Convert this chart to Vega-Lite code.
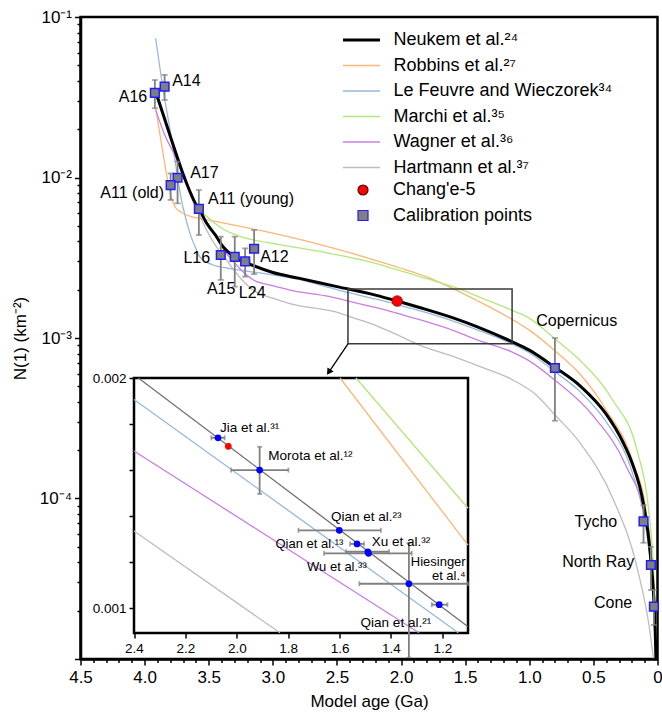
{
  "$schema": "https://vega.github.io/schema/vega-lite/v6.json",
  "width": 577,
  "height": 642,
  "autosize": "none",
  "padding": {"left": 80.5, "top": 17, "right": 4.5, "bottom": 57},
  "config": {
    "font": "Liberation Sans",
    "view": {"stroke": "#000000", "strokeWidth": 2.5},
    "axis": {"grid": false}
  },
  "datasets": {
    "curves": [
      {"series": "Robbins et al.²⁷", "t": 3.914, "n": 0.027},
      {"series": "Robbins et al.²⁷", "t": 3.87, "n": 0.0165},
      {"series": "Robbins et al.²⁷", "t": 3.84, "n": 0.0118},
      {"series": "Robbins et al.²⁷", "t": 3.8, "n": 0.0079},
      {"series": "Robbins et al.²⁷", "t": 3.764, "n": 0.0066},
      {"series": "Robbins et al.²⁷", "t": 3.72, "n": 0.0061},
      {"series": "Robbins et al.²⁷", "t": 3.673, "n": 0.00584},
      {"series": "Robbins et al.²⁷", "t": 3.55, "n": 0.00552},
      {"series": "Robbins et al.²⁷", "t": 3.44, "n": 0.00531},
      {"series": "Robbins et al.²⁷", "t": 3.2, "n": 0.00487},
      {"series": "Robbins et al.²⁷", "t": 3.0, "n": 0.0045},
      {"series": "Robbins et al.²⁷", "t": 2.8, "n": 0.00413},
      {"series": "Robbins et al.²⁷", "t": 2.557, "n": 0.00368},
      {"series": "Robbins et al.²⁷", "t": 2.2, "n": 0.00305},
      {"series": "Robbins et al.²⁷", "t": 2.0, "n": 0.00272},
      {"series": "Robbins et al.²⁷", "t": 1.8, "n": 0.0024},
      {"series": "Robbins et al.²⁷", "t": 1.6, "n": 0.00204},
      {"series": "Robbins et al.²⁷", "t": 1.4, "n": 0.0017},
      {"series": "Robbins et al.²⁷", "t": 1.137, "n": 0.00131},
      {"series": "Robbins et al.²⁷", "t": 1.0, "n": 0.00112},
      {"series": "Robbins et al.²⁷", "t": 0.805, "n": 0.00084},
      {"series": "Robbins et al.²⁷", "t": 0.6, "n": 0.00059},
      {"series": "Robbins et al.²⁷", "t": 0.4, "n": 0.000356},
      {"series": "Robbins et al.²⁷", "t": 0.195, "n": 0.000172},
      {"series": "Robbins et al.²⁷", "t": 0.085, "n": 0.000079},
      {"series": "Robbins et al.²⁷", "t": 0.04, "n": 0.000037},
      {"series": "Robbins et al.²⁷", "t": 0.016, "n": 0.0000145},
      {"series": "Robbins et al.²⁷", "t": 0.011, "n": 0.00001},

      {"series": "Le Feuvre and Wieczorek³⁴", "t": 3.914, "n": 0.0737},
      {"series": "Le Feuvre and Wieczorek³⁴", "t": 3.87, "n": 0.042},
      {"series": "Le Feuvre and Wieczorek³⁴", "t": 3.829, "n": 0.0264},
      {"series": "Le Feuvre and Wieczorek³⁴", "t": 3.8, "n": 0.0195},
      {"series": "Le Feuvre and Wieczorek³⁴", "t": 3.764, "n": 0.0129},
      {"series": "Le Feuvre and Wieczorek³⁴", "t": 3.712, "n": 0.0072},
      {"series": "Le Feuvre and Wieczorek³⁴", "t": 3.68, "n": 0.0056},
      {"series": "Le Feuvre and Wieczorek³⁴", "t": 3.647, "n": 0.0045},
      {"series": "Le Feuvre and Wieczorek³⁴", "t": 3.6, "n": 0.0036},
      {"series": "Le Feuvre and Wieczorek³⁴", "t": 3.569, "n": 0.0032},
      {"series": "Le Feuvre and Wieczorek³⁴", "t": 3.52, "n": 0.00298},
      {"series": "Le Feuvre and Wieczorek³⁴", "t": 3.466, "n": 0.00285},
      {"series": "Le Feuvre and Wieczorek³⁴", "t": 3.35, "n": 0.00272},
      {"series": "Le Feuvre and Wieczorek³⁴", "t": 3.258, "n": 0.00265},
      {"series": "Le Feuvre and Wieczorek³⁴", "t": 3.0, "n": 0.00247},
      {"series": "Le Feuvre and Wieczorek³⁴", "t": 2.8, "n": 0.00232},
      {"series": "Le Feuvre and Wieczorek³⁴", "t": 2.557, "n": 0.00206},
      {"series": "Le Feuvre and Wieczorek³⁴", "t": 2.4, "n": 0.00191},
      {"series": "Le Feuvre and Wieczorek³⁴", "t": 2.2, "n": 0.00175},
      {"series": "Le Feuvre and Wieczorek³⁴", "t": 2.0, "n": 0.00159},
      {"series": "Le Feuvre and Wieczorek³⁴", "t": 1.856, "n": 0.00148},
      {"series": "Le Feuvre and Wieczorek³⁴", "t": 1.6, "n": 0.00128},
      {"series": "Le Feuvre and Wieczorek³⁴", "t": 1.4, "n": 0.00112},
      {"series": "Le Feuvre and Wieczorek³⁴", "t": 1.137, "n": 0.00092},
      {"series": "Le Feuvre and Wieczorek³⁴", "t": 1.0, "n": 0.00081},
      {"series": "Le Feuvre and Wieczorek³⁴", "t": 0.805, "n": 0.00062},
      {"series": "Le Feuvre and Wieczorek³⁴", "t": 0.6, "n": 0.00046},
      {"series": "Le Feuvre and Wieczorek³⁴", "t": 0.4, "n": 0.0003},
      {"series": "Le Feuvre and Wieczorek³⁴", "t": 0.2, "n": 0.000148},
      {"series": "Le Feuvre and Wieczorek³⁴", "t": 0.1, "n": 0.000073},
      {"series": "Le Feuvre and Wieczorek³⁴", "t": 0.05, "n": 0.000036},
      {"series": "Le Feuvre and Wieczorek³⁴", "t": 0.025, "n": 0.000018},
      {"series": "Le Feuvre and Wieczorek³⁴", "t": 0.014, "n": 0.00001},

      {"series": "Marchi et al.³⁵", "t": 3.914, "n": 0.0327},
      {"series": "Marchi et al.³⁵", "t": 3.85, "n": 0.0235},
      {"series": "Marchi et al.³⁵", "t": 3.8, "n": 0.0178},
      {"series": "Marchi et al.³⁵", "t": 3.75, "n": 0.0135},
      {"series": "Marchi et al.³⁵", "t": 3.7, "n": 0.0104},
      {"series": "Marchi et al.³⁵", "t": 3.65, "n": 0.0083},
      {"series": "Marchi et al.³⁵", "t": 3.6, "n": 0.0069},
      {"series": "Marchi et al.³⁵", "t": 3.577, "n": 0.0064},
      {"series": "Marchi et al.³⁵", "t": 3.5, "n": 0.0056},
      {"series": "Marchi et al.³⁵", "t": 3.388, "n": 0.00478},
      {"series": "Marchi et al.³⁵", "t": 3.3, "n": 0.00442},
      {"series": "Marchi et al.³⁵", "t": 3.154, "n": 0.00408},
      {"series": "Marchi et al.³⁵", "t": 3.0, "n": 0.00388},
      {"series": "Marchi et al.³⁵", "t": 2.868, "n": 0.00372},
      {"series": "Marchi et al.³⁵", "t": 2.557, "n": 0.00337},
      {"series": "Marchi et al.³⁵", "t": 2.2, "n": 0.00292},
      {"series": "Marchi et al.³⁵", "t": 2.0, "n": 0.00262},
      {"series": "Marchi et al.³⁵", "t": 1.8, "n": 0.00234},
      {"series": "Marchi et al.³⁵", "t": 1.536, "n": 0.00201},
      {"series": "Marchi et al.³⁵", "t": 1.389, "n": 0.0018},
      {"series": "Marchi et al.³⁵", "t": 1.137, "n": 0.00149},
      {"series": "Marchi et al.³⁵", "t": 1.0, "n": 0.00133},
      {"series": "Marchi et al.³⁵", "t": 0.805, "n": 0.000995},
      {"series": "Marchi et al.³⁵", "t": 0.6, "n": 0.00072},
      {"series": "Marchi et al.³⁵", "t": 0.35, "n": 0.000411},
      {"series": "Marchi et al.³⁵", "t": 0.16, "n": 0.0002},
      {"series": "Marchi et al.³⁵", "t": 0.072, "n": 0.000089},
      {"series": "Marchi et al.³⁵", "t": 0.033, "n": 0.000039},
      {"series": "Marchi et al.³⁵", "t": 0.012, "n": 0.0000145},
      {"series": "Marchi et al.³⁵", "t": 0.008, "n": 0.00001},

      {"series": "Wagner et al.³⁶", "t": 3.914, "n": 0.0264},
      {"series": "Wagner et al.³⁶", "t": 3.85, "n": 0.019},
      {"series": "Wagner et al.³⁶", "t": 3.75, "n": 0.0129},
      {"series": "Wagner et al.³⁶", "t": 3.7, "n": 0.0101},
      {"series": "Wagner et al.³⁶", "t": 3.65, "n": 0.0082},
      {"series": "Wagner et al.³⁶", "t": 3.6, "n": 0.0068},
      {"series": "Wagner et al.³⁶", "t": 3.577, "n": 0.0064},
      {"series": "Wagner et al.³⁶", "t": 3.517, "n": 0.0052},
      {"series": "Wagner et al.³⁶", "t": 3.45, "n": 0.0044},
      {"series": "Wagner et al.³⁶", "t": 3.388, "n": 0.0036},
      {"series": "Wagner et al.³⁶", "t": 3.3, "n": 0.00295},
      {"series": "Wagner et al.³⁶", "t": 3.256, "n": 0.0027},
      {"series": "Wagner et al.³⁶", "t": 3.151, "n": 0.0023},
      {"series": "Wagner et al.³⁶", "t": 3.0, "n": 0.00212},
      {"series": "Wagner et al.³⁶", "t": 2.868, "n": 0.00199},
      {"series": "Wagner et al.³⁶", "t": 2.557, "n": 0.00181},
      {"series": "Wagner et al.³⁶", "t": 2.4, "n": 0.00169},
      {"series": "Wagner et al.³⁶", "t": 2.2, "n": 0.00155},
      {"series": "Wagner et al.³⁶", "t": 1.983, "n": 0.00139},
      {"series": "Wagner et al.³⁶", "t": 1.856, "n": 0.0013},
      {"series": "Wagner et al.³⁶", "t": 1.6, "n": 0.00112},
      {"series": "Wagner et al.³⁶", "t": 1.4, "n": 0.00097},
      {"series": "Wagner et al.³⁶", "t": 1.137, "n": 0.00082},
      {"series": "Wagner et al.³⁶", "t": 1.0, "n": 0.00072},
      {"series": "Wagner et al.³⁶", "t": 0.805, "n": 0.00055},
      {"series": "Wagner et al.³⁶", "t": 0.506, "n": 0.00033},
      {"series": "Wagner et al.³⁶", "t": 0.246, "n": 0.00016},
      {"series": "Wagner et al.³⁶", "t": 0.096, "n": 0.000075},
      {"series": "Wagner et al.³⁶", "t": 0.044, "n": 0.000037},
      {"series": "Wagner et al.³⁶", "t": 0.02, "n": 0.0000145},
      {"series": "Wagner et al.³⁶", "t": 0.014, "n": 0.00001},

      {"series": "Hartmann et al.³⁷", "t": 3.9, "n": 0.033},
      {"series": "Hartmann et al.³⁷", "t": 3.8, "n": 0.0178},
      {"series": "Hartmann et al.³⁷", "t": 3.7, "n": 0.0103},
      {"series": "Hartmann et al.³⁷", "t": 3.6, "n": 0.0066},
      {"series": "Hartmann et al.³⁷", "t": 3.517, "n": 0.0047},
      {"series": "Hartmann et al.³⁷", "t": 3.45, "n": 0.0038},
      {"series": "Hartmann et al.³⁷", "t": 3.361, "n": 0.00306},
      {"series": "Hartmann et al.³⁷", "t": 3.25, "n": 0.00235},
      {"series": "Hartmann et al.³⁷", "t": 3.154, "n": 0.00199},
      {"series": "Hartmann et al.³⁷", "t": 3.0, "n": 0.00177},
      {"series": "Hartmann et al.³⁷", "t": 2.868, "n": 0.00164},
      {"series": "Hartmann et al.³⁷", "t": 2.477, "n": 0.00143},
      {"series": "Hartmann et al.³⁷", "t": 2.4, "n": 0.00136},
      {"series": "Hartmann et al.³⁷", "t": 2.2, "n": 0.0012},
      {"series": "Hartmann et al.³⁷", "t": 2.0, "n": 0.00102},
      {"series": "Hartmann et al.³⁷", "t": 1.856, "n": 0.000904},
      {"series": "Hartmann et al.³⁷", "t": 1.6, "n": 0.00077},
      {"series": "Hartmann et al.³⁷", "t": 1.389, "n": 0.000665},
      {"series": "Hartmann et al.³⁷", "t": 1.137, "n": 0.000552},
      {"series": "Hartmann et al.³⁷", "t": 0.95, "n": 0.000445},
      {"series": "Hartmann et al.³⁷", "t": 0.805, "n": 0.000335},
      {"series": "Hartmann et al.³⁷", "t": 0.61, "n": 0.000225},
      {"series": "Hartmann et al.³⁷", "t": 0.343, "n": 0.000098},
      {"series": "Hartmann et al.³⁷", "t": 0.161, "n": 0.0000376},
      {"series": "Hartmann et al.³⁷", "t": 0.057, "n": 0.0000145},
      {"series": "Hartmann et al.³⁷", "t": 0.031, "n": 0.00001},

      {"series": "Neukem et al.²⁴", "t": 3.91, "n": 0.0335},
      {"series": "Neukem et al.²⁴", "t": 3.85, "n": 0.024},
      {"series": "Neukem et al.²⁴", "t": 3.8, "n": 0.0181},
      {"series": "Neukem et al.²⁴", "t": 3.75, "n": 0.0137},
      {"series": "Neukem et al.²⁴", "t": 3.7, "n": 0.0105},
      {"series": "Neukem et al.²⁴", "t": 3.65, "n": 0.0083},
      {"series": "Neukem et al.²⁴", "t": 3.6, "n": 0.0068},
      {"series": "Neukem et al.²⁴", "t": 3.577, "n": 0.0064},
      {"series": "Neukem et al.²⁴", "t": 3.517, "n": 0.0052},
      {"series": "Neukem et al.²⁴", "t": 3.45, "n": 0.0044},
      {"series": "Neukem et al.²⁴", "t": 3.388, "n": 0.0037},
      {"series": "Neukem et al.²⁴", "t": 3.3, "n": 0.0032},
      {"series": "Neukem et al.²⁴", "t": 3.258, "n": 0.00305},
      {"series": "Neukem et al.²⁴", "t": 3.216, "n": 0.00297},
      {"series": "Neukem et al.²⁴", "t": 3.15, "n": 0.00282},
      {"series": "Neukem et al.²⁴", "t": 3.0, "n": 0.00256},
      {"series": "Neukem et al.²⁴", "t": 2.8, "n": 0.00236},
      {"series": "Neukem et al.²⁴", "t": 2.5, "n": 0.00209},
      {"series": "Neukem et al.²⁴", "t": 2.2, "n": 0.00185},
      {"series": "Neukem et al.²⁴", "t": 2.03, "n": 0.0017},
      {"series": "Neukem et al.²⁴", "t": 1.856, "n": 0.00155},
      {"series": "Neukem et al.²⁴", "t": 1.6, "n": 0.00134},
      {"series": "Neukem et al.²⁴", "t": 1.4, "n": 0.00117},
      {"series": "Neukem et al.²⁴", "t": 1.137, "n": 0.00095},
      {"series": "Neukem et al.²⁴", "t": 1.0, "n": 0.00084},
      {"series": "Neukem et al.²⁴", "t": 0.805, "n": 0.00066},
      {"series": "Neukem et al.²⁴", "t": 0.6, "n": 0.0005},
      {"series": "Neukem et al.²⁴", "t": 0.4, "n": 0.000335},
      {"series": "Neukem et al.²⁴", "t": 0.27, "n": 0.000225},
      {"series": "Neukem et al.²⁴", "t": 0.2, "n": 0.000168},
      {"series": "Neukem et al.²⁴", "t": 0.109, "n": 0.000092},
      {"series": "Neukem et al.²⁴", "t": 0.057, "n": 0.000046},
      {"series": "Neukem et al.²⁴", "t": 0.018, "n": 0.000015},
      {"series": "Neukem et al.²⁴", "t": 0.012, "n": 0.00001}
    ],
    "calib": [
      {"series": "Calibration points", "name": "A16", "t": 3.92, "n": 0.0337, "nlo": 0.027, "nhi": 0.0405, "tlo": 3.94, "thi": 3.9},
      {"series": "Calibration points", "name": "A14", "t": 3.844, "n": 0.0368, "nlo": 0.0304, "nhi": 0.0436, "tlo": 3.864, "thi": 3.824},
      {"series": "Calibration points", "name": "A17", "t": 3.743, "n": 0.00997, "nlo": 0.0069, "nhi": 0.01256, "tlo": 3.763, "thi": 3.723},
      {"series": "Calibration points", "name": "A11 (old)", "t": 3.797, "n": 0.00897, "nlo": 0.00725, "nhi": 0.0106, "tlo": 3.817, "thi": 3.777},
      {"series": "Calibration points", "name": "A11 (young)", "t": 3.577, "n": 0.00637, "nlo": 0.00438, "nhi": 0.00836, "tlo": 3.597, "thi": 3.557},
      {"series": "Calibration points", "name": "L16", "t": 3.406, "n": 0.00329, "nlo": 0.0023, "nhi": 0.00428, "tlo": 3.426, "thi": 3.386},
      {"series": "Calibration points", "name": "A15", "t": 3.297, "n": 0.0032, "nlo": 0.00209, "nhi": 0.00428, "tlo": 3.317, "thi": 3.277},
      {"series": "Calibration points", "name": "L24", "t": 3.216, "n": 0.003, "nlo": 0.00241, "nhi": 0.00362, "tlo": 3.25, "thi": 3.18},
      {"series": "Calibration points", "name": "A12", "t": 3.146, "n": 0.0036, "nlo": 0.0025, "nhi": 0.00471, "tlo": 3.166, "thi": 3.126},
      {"series": "Calibration points", "name": "Copernicus", "t": 0.8, "n": 0.00065, "nlo": 0.000305, "nhi": 0.001, "tlo": 0.815, "thi": 0.785},
      {"series": "Calibration points", "name": "Tycho", "t": 0.109, "n": 0.000072, "nlo": 0.000053, "nhi": 0.000091, "tlo": 0.117, "thi": 0.101},
      {"series": "Calibration points", "name": "North Ray", "t": 0.0515, "n": 0.0000385, "nlo": 0.0000269, "nhi": 0.00005, "tlo": 0.056, "thi": 0.047},
      {"series": "Calibration points", "name": "Cone", "t": 0.028, "n": 0.0000212, "nlo": 0.0000163, "nhi": 0.0000269, "tlo": 0.031, "thi": 0.025}
    ],
    "change5": [
      {"series": "Chang'e-5", "t": 2.03, "n": 0.0017}
    ],
    "labelsLeft": [
      {"label": "A14", "t": 3.785, "n": 0.0399},
      {"label": "A17", "t": 3.645, "n": 0.01067},
      {"label": "A11 (young)", "t": 3.505, "n": 0.00735},
      {"label": "A12", "t": 3.099, "n": 0.0032},
      {"label": "Copernicus", "t": 0.946, "n": 0.00128}
    ],
    "labelsRight": [
      {"label": "A16", "t": 3.98, "n": 0.0318},
      {"label": "A11 (old)", "t": 3.848, "n": 0.008},
      {"label": "L16", "t": 3.489, "n": 0.00315},
      {"label": "Tycho", "t": 0.314, "n": 0.0000715},
      {"label": "North Ray", "t": 0.182, "n": 0.0000402},
      {"label": "Cone", "t": 0.197, "n": 0.0000223}
    ],
    "labelsCenter": [
      {"label": "A15", "t": 3.403, "n": 0.00202},
      {"label": "L24", "t": 3.161, "n": 0.00191}
    ],
    "insetLines": [
      {"series": "Neukem et al.²⁴", "t": 2.383, "n": 0.002},
      {"series": "Neukem et al.²⁴", "t": 1.101, "n": 0.00092},
      {"series": "Le Feuvre and Wieczorek³⁴", "t": 2.4, "n": 0.001907},
      {"series": "Le Feuvre and Wieczorek³⁴", "t": 1.138, "n": 0.000893},
      {"series": "Wagner et al.³⁶", "t": 2.4, "n": 0.001683},
      {"series": "Wagner et al.³⁶", "t": 1.291, "n": 0.000893},
      {"series": "Hartmann et al.³⁷", "t": 2.4, "n": 0.001335},
      {"series": "Hartmann et al.³⁷", "t": 1.832, "n": 0.000893},
      {"series": "Robbins et al.²⁷", "t": 1.598, "n": 0.002},
      {"series": "Robbins et al.²⁷", "t": 1.1, "n": 0.001274},
      {"series": "Marchi et al.³⁵", "t": 1.536, "n": 0.002},
      {"series": "Marchi et al.³⁵", "t": 1.1, "n": 0.001434}
    ],
    "insetPoints": [
      {"name": "Jia", "t": 2.073, "n": 0.00174, "tlo": 2.099, "thi": 2.047},
      {"name": "Morota", "t": 1.911, "n": 0.0016, "tlo": 2.022, "thi": 1.799},
      {"name": "Qian23", "t": 1.601, "n": 0.001338, "tlo": 1.76, "thi": 1.439},
      {"name": "Qian13", "t": 1.532, "n": 0.001279, "tlo": 1.559, "thi": 1.505},
      {"name": "Xu", "t": 1.49, "n": 0.001245, "tlo": 1.575, "thi": 1.407},
      {"name": "Wu", "t": 1.487, "n": 0.001238, "tlo": 1.66, "thi": 1.319},
      {"name": "Hiesinger", "t": 1.33, "n": 0.001106, "tlo": 1.523, "thi": 1.1},
      {"name": "Qian21", "t": 1.212, "n": 0.001015, "tlo": 1.241, "thi": 1.18}
    ],
    "insetVert": [
      {"name": "Morota", "t": 1.911, "nlo": 0.001496, "nhi": 0.001701},
      {"name": "Hiesinger", "t": 1.33, "nlo": 0.000785, "nhi": 0.001283}
    ],
    "insetLabelsLeft": [
      {"label": "Jia et al.³¹", "t": 2.065, "n": 0.001784},
      {"label": "Morota et al.¹²", "t": 1.877, "n": 0.001662},
      {"label": "Qian et al.²³", "t": 1.633, "n": 0.001397},
      {"label": "Xu et al.³²", "t": 1.475, "n": 0.001286},
      {"label": "Qian et al.²¹", "t": 1.518, "n": 0.000937}
    ],
    "insetLabelsRight": [
      {"label": "Qian et al.¹³", "t": 1.585, "n": 0.001279},
      {"label": "Wu et al.³³", "t": 1.494, "n": 0.00118},
      {"label": "Hiesinger", "t": 1.109, "n": 0.0011985},
      {"label": "et al.⁴", "t": 1.109, "n": 0.0011375}
    ]
  },
  "layer": [
    {
      "layer": [
        {
          "data": {"name": "curves"},
          "mark": {"type": "line", "clip": true, "interpolate": "monotone"},
          "encoding": {
            "x": {
              "field": "t", "type": "quantitative", "title": "Model age (Ga)",
              "scale": {"domain": [0, 4.5], "reverse": true, "nice": false, "zero": false},
              "axis": {
                "title": "Model age (Ga)",
                "values": [0, 0.5, 1, 1.5, 2, 2.5, 3, 3.5, 4, 4.5],
                "labelExpr": "datum.value == 0 ? '0' : format(datum.value, '.1f')",
                "tickSize": 6, "tickWidth": 1.5, "tickColor": "#000000",
                "domainWidth": 2.5, "domainColor": "#000000",
                "labelFontSize": 17, "labelColor": "#000000", "labelPadding": 4,
                "labelOverlap": false, "labelFlush": false,
                "titleFontSize": 17, "titleFontWeight": "normal", "titleColor": "#000000", "titlePadding": 8,
                "zindex": 1
              }
            },
            "y": {
              "field": "n", "type": "quantitative", "title": "N(1) (km⁻²)",
              "scale": {"type": "log", "domain": [0.00001, 0.1], "nice": false},
              "axis": {
                "title": "N(1) (km⁻²)",
                "values": [0.00001,0.00002,0.00003,0.00004,0.00005,0.00006,0.00007,0.00008,0.00009,0.0001,0.0002,0.0003,0.0004,0.0005,0.0006,0.0007,0.0008,0.0009,0.001,0.002,0.003,0.004,0.005,0.006,0.007,0.008,0.009,0.01,0.02,0.03,0.04,0.05,0.06,0.07,0.08,0.09,0.1],
                "labelExpr": "datum.value == 0.1 ? '10⁻¹' : datum.value == 0.01 ? '10⁻²' : datum.value == 0.001 ? '10⁻³' : datum.value == 0.0001 ? '10⁻⁴' : ''",
                "tickSize": {"condition": {"test": "datum.value == 0.1 || datum.value == 0.01 || datum.value == 0.001 || datum.value == 0.0001 || datum.value == 0.00001", "value": 6}, "value": 3.5},
                "tickWidth": 1.5, "tickColor": "#000000",
                "domainWidth": 2.5, "domainColor": "#000000",
                "labelFontSize": 17, "labelColor": "#000000", "labelPadding": 3,
                "labelOverlap": false, "labelFlush": false,
                "titleFontSize": 17, "titleFontWeight": "normal", "titleColor": "#000000", "titlePadding": 10,
                "zindex": 1
              }
            },
            "color": {
              "field": "series", "type": "nominal",
              "scale": {
                "domain": ["Neukem et al.²⁴", "Robbins et al.²⁷", "Le Feuvre and Wieczorek³⁴", "Marchi et al.³⁵", "Wagner et al.³⁶", "Hartmann et al.³⁷"],
                "range": ["#000000", "#f9b878", "#97b9dc", "#b2e87a", "#c77fe3", "#bdbdbd"]
              },
              "legend": {
                "orient": "none", "legendX": 261, "legendY": 10.5,
                "title": null, "padding": 0,
                "labelFontSize": 18, "labelColor": "#000000", "labelLimit": 400, "labelOffset": 12,
                "symbolType": "stroke", "symbolSize": 1369, "symbolStrokeWidth": 1.5,
                "clipHeight": 25, "rowPadding": 0.5, "symbolOpacity": 1
              }
            },
            "strokeWidth": {
              "field": "series", "type": "nominal",
              "scale": {
                "type": "ordinal",
                "domain": ["Neukem et al.²⁴", "Robbins et al.²⁷", "Le Feuvre and Wieczorek³⁴", "Marchi et al.³⁵", "Wagner et al.³⁶", "Hartmann et al.³⁷"],
                "range": [3, 1.3, 1.3, 1.3, 1.3, 1.3]
              },
              "legend": {
                "orient": "none", "legendX": 261, "legendY": 10.5,
                "title": null, "padding": 0,
                "labelFontSize": 18, "labelColor": "#000000", "labelLimit": 400, "labelOffset": 12,
                "symbolType": "stroke", "symbolSize": 1369,
                "clipHeight": 25, "rowPadding": 0.5, "symbolOpacity": 1
              }
            }
          }
        },
        {
          "data": {"values": [{"t1": 2.414, "t2": 1.134, "n1": 0.00092, "n2": 0.00202}]},
          "mark": {"type": "rect", "fill": "transparent", "stroke": "#3a3a3a", "strokeWidth": 1.5},
          "encoding": {
            "x": {"field": "t1", "type": "quantitative", "title": "Model age (Ga)"},
            "x2": {"field": "t2"},
            "y": {"field": "n1", "type": "quantitative", "title": "N(1) (km⁻²)"},
            "y2": {"field": "n2"}
          }
        },
        {
          "data": {"values": [{"t1": 2.414, "n1": 0.00092, "t2": 2.559, "n2": 0.00062}]},
          "mark": {"type": "rule", "color": "#000000", "strokeWidth": 1.3},
          "encoding": {
            "x": {"field": "t1", "type": "quantitative", "title": "Model age (Ga)"},
            "y": {"field": "n1", "type": "quantitative", "title": "N(1) (km⁻²)"},
            "x2": {"field": "t2"},
            "y2": {"field": "n2"}
          }
        },
        {
          "data": {"values": [{"t": 2.559, "n": 0.00062}]},
          "mark": {"type": "point", "shape": "triangle", "angle": 214, "filled": true, "color": "#000000", "size": 55, "opacity": 1},
          "encoding": {
            "x": {"field": "t", "type": "quantitative", "title": "Model age (Ga)"},
            "y": {"field": "n", "type": "quantitative", "title": "N(1) (km⁻²)"}
          }
        },
        {
          "data": {"name": "calib"},
          "mark": {"type": "errorbar", "ticks": {"size": 6}, "thickness": 1.8, "color": "#808080"},
          "encoding": {
            "x": {"field": "t", "type": "quantitative", "title": "Model age (Ga)"},
            "y": {"field": "nlo", "type": "quantitative", "title": "N(1) (km⁻²)"},
            "y2": {"field": "nhi"}
          }
        },
        {
          "data": {"name": "calib"},
          "mark": {"type": "errorbar", "ticks": {"size": 5}, "thickness": 1.5, "color": "#808080"},
          "encoding": {
            "y": {"field": "n", "type": "quantitative", "title": "N(1) (km⁻²)"},
            "x": {"field": "tlo", "type": "quantitative", "title": "Model age (Ga)"},
            "x2": {"field": "thi"}
          }
        },
        {
          "data": {"name": "calib"},
          "mark": {"type": "point", "filled": true, "size": 75, "strokeWidth": 1.5, "opacity": 1, "fillOpacity": 1, "strokeOpacity": 1},
          "encoding": {
            "x": {"field": "t", "type": "quantitative", "title": "Model age (Ga)"},
            "y": {"field": "n", "type": "quantitative", "title": "N(1) (km⁻²)"},
            "shape": {
              "field": "series", "type": "nominal",
              "scale": {"domain": ["Chang'e-5", "Calibration points"], "range": ["circle", "square"]},
              "legend": {
                "orient": "none", "legendX": 273.5, "legendY": 160.5,
                "title": null, "padding": 0,
                "labelFontSize": 18, "labelColor": "#000000", "labelLimit": 400, "labelOffset": 21,
                "symbolSize": 100, "symbolStrokeWidth": 1.2,
                "clipHeight": 25, "rowPadding": 0.5, "symbolOpacity": 1
              }
            },
            "fill": {
              "field": "series", "type": "nominal",
              "scale": {"domain": ["Chang'e-5", "Calibration points"], "range": ["#ff0000", "#7f7f7f"]},
              "legend": {
                "orient": "none", "legendX": 273.5, "legendY": 160.5,
                "title": null, "padding": 0,
                "labelFontSize": 18, "labelColor": "#000000", "labelLimit": 400, "labelOffset": 21,
                "symbolSize": 100, "symbolStrokeWidth": 1.2,
                "clipHeight": 25, "rowPadding": 0.5, "symbolOpacity": 1
              }
            },
            "stroke": {
              "field": "series", "type": "nominal",
              "scale": {"domain": ["Chang'e-5", "Calibration points"], "range": ["#5a0000", "#1f1fff"]},
              "legend": {
                "orient": "none", "legendX": 273.5, "legendY": 160.5,
                "title": null, "padding": 0,
                "labelFontSize": 18, "labelColor": "#000000", "labelLimit": 400, "labelOffset": 21,
                "symbolSize": 100, "symbolStrokeWidth": 1.2,
                "clipHeight": 25, "rowPadding": 0.5, "symbolOpacity": 1
              }
            }
          }
        },
        {
          "data": {"name": "change5"},
          "mark": {"type": "point", "filled": true, "size": 115, "strokeWidth": 0.6, "opacity": 1, "fillOpacity": 1, "strokeOpacity": 1},
          "encoding": {
            "x": {"field": "t", "type": "quantitative", "title": "Model age (Ga)"},
            "y": {"field": "n", "type": "quantitative", "title": "N(1) (km⁻²)"},
            "shape": {"field": "series", "type": "nominal"},
            "fill": {"field": "series", "type": "nominal"},
            "stroke": {"field": "series", "type": "nominal"}
          }
        },
        {
          "data": {"name": "labelsLeft"},
          "mark": {"type": "text", "align": "left", "baseline": "middle", "fontSize": 16, "color": "#000000"},
          "encoding": {
            "x": {"field": "t", "type": "quantitative", "title": "Model age (Ga)"},
            "y": {"field": "n", "type": "quantitative", "title": "N(1) (km⁻²)"},
            "text": {"field": "label"}
          }
        },
        {
          "data": {"name": "labelsRight"},
          "mark": {"type": "text", "align": "right", "baseline": "middle", "fontSize": 16, "color": "#000000"},
          "encoding": {
            "x": {"field": "t", "type": "quantitative", "title": "Model age (Ga)"},
            "y": {"field": "n", "type": "quantitative", "title": "N(1) (km⁻²)"},
            "text": {"field": "label"}
          }
        },
        {
          "data": {"name": "labelsCenter"},
          "mark": {"type": "text", "align": "center", "baseline": "middle", "fontSize": 16, "color": "#000000"},
          "encoding": {
            "x": {"field": "t", "type": "quantitative", "title": "Model age (Ga)"},
            "y": {"field": "n", "type": "quantitative", "title": "N(1) (km⁻²)"},
            "text": {"field": "label"}
          }
        }
      ]
    },
    {
      "data": {"values": [{"t": 2, "n": 0.001}]},
      "mark": {"type": "point", "opacity": 0},
      "encoding": {
        "x": {
          "field": "t", "type": "quantitative",
          "scale": {"domain": [0, 4.5], "reverse": true, "nice": false, "zero": false},
          "axis": {
            "orient": "bottom", "title": null, "labels": false, "domain": false,
            "values": [0.1,0.2,0.3,0.4,0.6,0.7,0.8,0.9,1.1,1.2,1.3,1.4,1.6,1.7,1.8,1.9,2.1,2.2,2.3,2.4,2.6,2.7,2.8,2.9,3.1,3.2,3.3,3.4,3.6,3.7,3.8,3.9,4.1,4.2,4.3,4.4],
            "tickSize": 3.5, "tickWidth": 1.5, "tickColor": "#000000", "zindex": 1
          }
        },
        "y": {
          "field": "n", "type": "quantitative",
          "scale": {"type": "log", "domain": [0.00001, 0.1], "nice": false},
          "axis": null
        }
      }
    },
    {
      "layer": [
        {
          "data": {"values": [{"t1": 2.4, "t2": 1.1, "n1": 0.000892, "n2": 0.002}]},
          "mark": {"type": "rect", "fill": "#ffffff", "stroke": "#000000", "strokeWidth": 2.5},
          "encoding": {
            "x": {
              "field": "t1", "type": "quantitative",
              "scale": {"domain": [1.1, 2.4], "range": [387.5, 53.5], "nice": false, "zero": false},
              "axis": {
                "orient": "bottom", "offset": -26, "title": null,
                "values": [1.2, 1.4, 1.6, 1.8, 2.0, 2.2, 2.4], "format": ".1f",
                "domain": false, "tickSize": 5, "tickWidth": 1.5, "tickColor": "#000000",
                "labelFontSize": 13.5, "labelColor": "#000000", "labelPadding": 3,
                "labelOverlap": false, "labelFlush": false, "zindex": 2
              }
            },
            "x2": {"field": "t2"},
            "y": {
              "field": "n1", "type": "quantitative",
              "scale": {"domain": [0.000892, 0.002], "range": [616, 361], "nice": false, "zero": false},
              "axis": {
                "orient": "left", "offset": -53.5, "title": null,
                "values": [0.001, 0.0012, 0.0014, 0.0016, 0.0018, 0.002],
                "labelExpr": "datum.value == 0.001 ? '0.001' : datum.value == 0.002 ? '0.002' : ''",
                "domain": false, "tickSize": 5, "tickWidth": 1.5, "tickColor": "#000000",
                "labelFontSize": 13.5, "labelColor": "#000000", "labelPadding": 3,
                "labelOverlap": false, "labelFlush": false, "zindex": 2
              }
            },
            "y2": {"field": "n2"}
          }
        },
        {
          "data": {"name": "insetLines"},
          "transform": [{"filter": "datum.series == 'Hartmann et al.³⁷'"}],
          "mark": {"type": "line", "strokeWidth": 1.3, "color": "#bdbdbd"},
          "encoding": {"x": {"field": "t", "type": "quantitative"}, "y": {"field": "n", "type": "quantitative"}}
        },
        {
          "data": {"name": "insetLines"},
          "transform": [{"filter": "datum.series == 'Wagner et al.³⁶'"}],
          "mark": {"type": "line", "strokeWidth": 1.3, "color": "#c77fe3"},
          "encoding": {"x": {"field": "t", "type": "quantitative"}, "y": {"field": "n", "type": "quantitative"}}
        },
        {
          "data": {"name": "insetLines"},
          "transform": [{"filter": "datum.series == 'Le Feuvre and Wieczorek³⁴'"}],
          "mark": {"type": "line", "strokeWidth": 1.3, "color": "#97b9dc"},
          "encoding": {"x": {"field": "t", "type": "quantitative"}, "y": {"field": "n", "type": "quantitative"}}
        },
        {
          "data": {"name": "insetLines"},
          "transform": [{"filter": "datum.series == 'Robbins et al.²⁷'"}],
          "mark": {"type": "line", "strokeWidth": 1.3, "color": "#f9b878"},
          "encoding": {"x": {"field": "t", "type": "quantitative"}, "y": {"field": "n", "type": "quantitative"}}
        },
        {
          "data": {"name": "insetLines"},
          "transform": [{"filter": "datum.series == 'Marchi et al.³⁵'"}],
          "mark": {"type": "line", "strokeWidth": 1.3, "color": "#b2e87a"},
          "encoding": {"x": {"field": "t", "type": "quantitative"}, "y": {"field": "n", "type": "quantitative"}}
        },
        {
          "data": {"name": "insetLines"},
          "transform": [{"filter": "datum.series == 'Neukem et al.²⁴'"}],
          "mark": {"type": "line", "strokeWidth": 1.3, "color": "#707070"},
          "encoding": {"x": {"field": "t", "type": "quantitative"}, "y": {"field": "n", "type": "quantitative"}}
        },
        {
          "data": {"name": "insetPoints"},
          "mark": {"type": "errorbar", "ticks": {"size": 5}, "thickness": 1.8, "color": "#808080"},
          "encoding": {
            "y": {"field": "n", "type": "quantitative"},
            "x": {"field": "tlo", "type": "quantitative"},
            "x2": {"field": "thi"}
          }
        },
        {
          "data": {"name": "insetVert"},
          "mark": {"type": "errorbar", "ticks": {"size": 5}, "thickness": 1.8, "color": "#808080"},
          "encoding": {
            "x": {"field": "t", "type": "quantitative"},
            "y": {"field": "nlo", "type": "quantitative"},
            "y2": {"field": "nhi"}
          }
        },
        {
          "data": {"name": "insetPoints"},
          "mark": {"type": "point", "shape": "circle", "size": 45, "filled": true, "color": "#0000ff", "opacity": 1},
          "encoding": {
            "x": {"field": "t", "type": "quantitative"},
            "y": {"field": "n", "type": "quantitative"}
          }
        },
        {
          "data": {"values": [{"t": 2.033, "n": 0.001703}]},
          "mark": {"type": "point", "shape": "circle", "size": 45, "filled": true, "color": "#ff0000", "opacity": 1},
          "encoding": {
            "x": {"field": "t", "type": "quantitative"},
            "y": {"field": "n", "type": "quantitative"}
          }
        },
        {
          "data": {"name": "insetLabelsLeft"},
          "mark": {"type": "text", "align": "left", "baseline": "middle", "fontSize": 13.5, "color": "#000000"},
          "encoding": {
            "x": {"field": "t", "type": "quantitative"},
            "y": {"field": "n", "type": "quantitative"},
            "text": {"field": "label"}
          }
        },
        {
          "data": {"name": "insetLabelsRight"},
          "mark": {"type": "text", "align": "right", "baseline": "middle", "fontSize": 13, "color": "#000000"},
          "encoding": {
            "x": {"field": "t", "type": "quantitative"},
            "y": {"field": "n", "type": "quantitative"},
            "text": {"field": "label"}
          }
        }
      ]
    }
  ],
  "resolve": {
    "scale": {"x": "independent", "y": "independent"},
    "axis": {"x": "independent", "y": "independent"}
  }
}
